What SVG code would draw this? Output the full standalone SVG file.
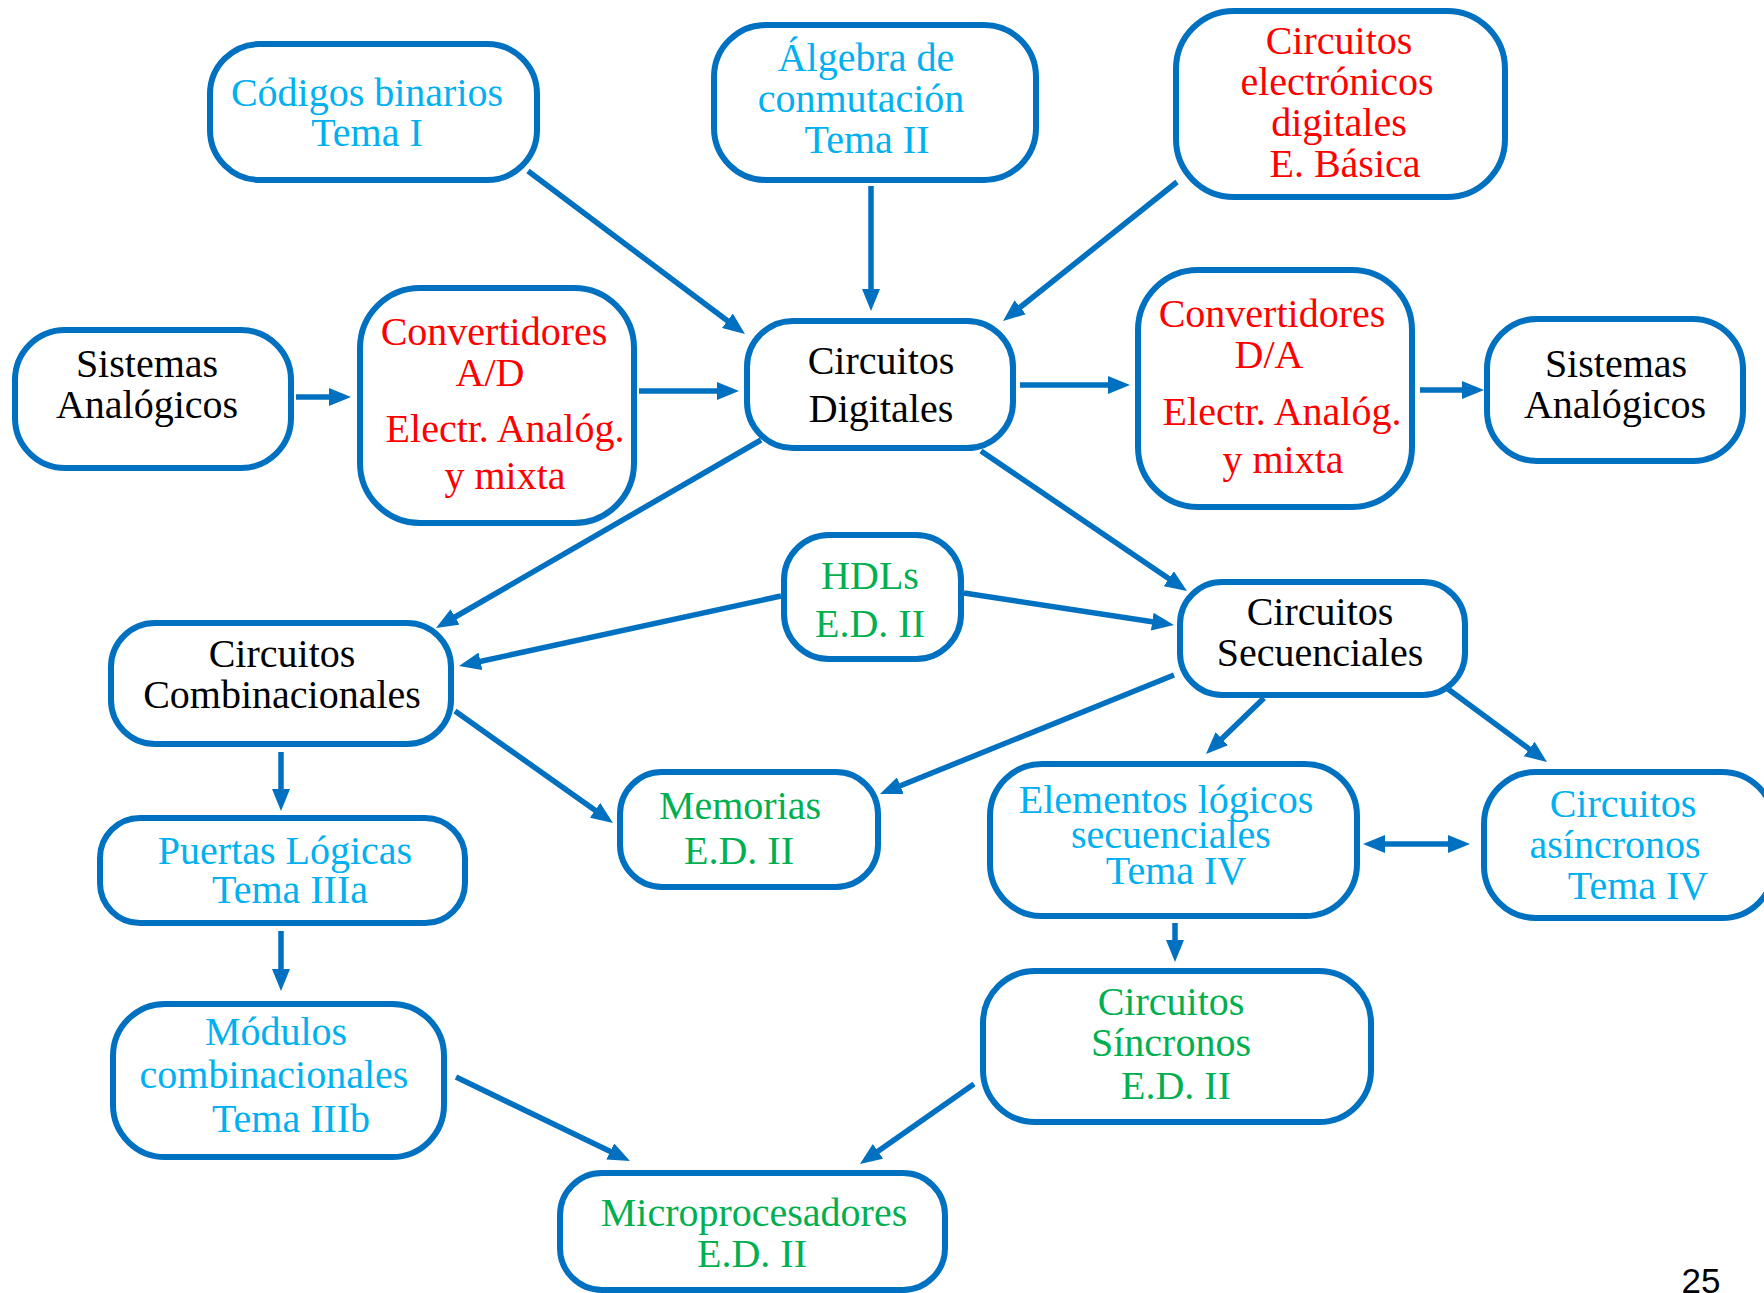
<svg xmlns="http://www.w3.org/2000/svg" width="1764" height="1293" viewBox="0 0 1764 1293">
<style>
.box{fill:#FFFFFF;stroke:#0070C0;stroke-width:6}
.t{font-family:"Liberation Serif","Times New Roman",serif;font-size:40px;text-anchor:middle}
.k{fill:#000000}
.c{fill:#00B0F0}
.r{fill:#FF0000}
.g{fill:#00B050}
.arrow{stroke:#0070C0;stroke-width:5.5;fill:none;marker-end:url(#ah)}
</style>
<defs>
<marker id="ah" markerUnits="userSpaceOnUse" markerWidth="22" markerHeight="18" refX="10" refY="9" orient="auto-start-reverse">
<path d="M0,0 L22,9 L0,18 z" fill="#0070C0"/>
</marker>
</defs>
<rect width="1764" height="1293" fill="#FFFFFF"/>
<g id="connectors">
<line class="arrow" x1="528" y1="171" x2="735.4" y2="326.8"/>
<line class="arrow" x1="871" y1="186" x2="871" y2="299"/>
<line class="arrow" x1="1177" y1="182" x2="1012.4" y2="313.5"/>
<line class="arrow" x1="296" y1="397" x2="339" y2="397"/>
<line class="arrow" x1="639" y1="391" x2="727" y2="391"/>
<line class="arrow" x1="1020" y1="385" x2="1118" y2="385"/>
<line class="arrow" x1="1420" y1="390" x2="1472" y2="390"/>
<line class="arrow" x1="761" y1="440" x2="446.4" y2="622"/>
<line class="arrow" x1="981" y1="451" x2="1177.1" y2="584.3"/>
<line class="arrow" x1="781" y1="596" x2="470.7" y2="663.5"/>
<line class="arrow" x1="964" y1="593" x2="1162.1" y2="623.2"/>
<line class="arrow" x1="455" y1="711" x2="603.2" y2="816.1"/>
<line class="arrow" x1="1174" y1="675" x2="891.1" y2="789.5"/>
<line class="arrow" x1="1264" y1="698" x2="1214.6" y2="745.7"/>
<line class="arrow" x1="1448" y1="689" x2="1537.3" y2="754.9"/>
<line class="arrow" x1="1375" y1="844" x2="1458" y2="844" marker-start="url(#ah)"/>
<line class="arrow" x1="1175" y1="923" x2="1175" y2="950"/>
<line class="arrow" x1="974" y1="1084" x2="869.8" y2="1157.1"/>
<line class="arrow" x1="281" y1="752" x2="281" y2="799"/>
<line class="arrow" x1="281" y1="931" x2="281" y2="979"/>
<line class="arrow" x1="456" y1="1077" x2="619.2" y2="1155.8"/>
</g>
<g id="codigos">
<rect class="box" x="210" y="44" width="327" height="136" rx="50"/>
<text class="t c"><tspan x="367" y="106">Códigos binarios</tspan><tspan x="367" y="146">Tema I</tspan></text>
</g>
<g id="algebra">
<rect class="box" x="714" y="25" width="322" height="155" rx="52"/>
<text class="t c"><tspan x="866" y="71">Álgebra de</tspan><tspan x="861" y="112">conmutación</tspan><tspan x="867" y="153">Tema II</tspan></text>
</g>
<g id="electronicos">
<rect class="box" x="1176" y="11" width="329" height="186" rx="58"/>
<text class="t r"><tspan x="1339" y="54">Circuitos</tspan><tspan x="1337" y="95">electrónicos</tspan><tspan x="1339" y="136">digitales</tspan><tspan x="1345" y="177">E. Básica</tspan></text>
</g>
<g id="sist-analog-izq">
<rect class="box" x="15" y="330" width="276" height="138" rx="50"/>
<text class="t k"><tspan x="147" y="377">Sistemas</tspan><tspan x="147" y="418">Analógicos</tspan></text>
</g>
<g id="conv-ad">
<rect class="box" x="360" y="288" width="274" height="235" rx="60"/>
<text class="t r"><tspan x="494" y="345">Convertidores</tspan><tspan x="490" y="386">A/D</tspan><tspan x="505" y="442">Electr. Analóg.</tspan><tspan x="505" y="489">y mixta</tspan></text>
</g>
<g id="circ-digitales">
<rect class="box" x="747" y="321" width="266" height="127" rx="46"/>
<text class="t k"><tspan x="881" y="374">Circuitos</tspan><tspan x="881" y="422">Digitales</tspan></text>
</g>
<g id="conv-da">
<rect class="box" x="1138" y="270" width="274" height="237" rx="60"/>
<text class="t r"><tspan x="1272" y="327">Convertidores</tspan><tspan x="1269" y="368">D/A</tspan><tspan x="1282" y="425">Electr. Analóg.</tspan><tspan x="1283" y="473">y mixta</tspan></text>
</g>
<g id="sist-analog-der">
<rect class="box" x="1487" y="319" width="256" height="142" rx="50"/>
<text class="t k"><tspan x="1616" y="377">Sistemas</tspan><tspan x="1615" y="418">Analógicos</tspan></text>
</g>
<g id="combinacionales">
<rect class="box" x="111" y="623" width="340" height="121" rx="44"/>
<text class="t k"><tspan x="282" y="667">Circuitos</tspan><tspan x="282" y="708">Combinacionales</tspan></text>
</g>
<g id="hdls">
<rect class="box" x="784" y="535" width="177" height="124" rx="45"/>
<text class="t g"><tspan x="870" y="589">HDLs</tspan><tspan x="870" y="637">E.D. II</tspan></text>
</g>
<g id="secuenciales">
<rect class="box" x="1180" y="582" width="285" height="113" rx="42"/>
<text class="t k"><tspan x="1320" y="625">Circuitos</tspan><tspan x="1320" y="666">Secuenciales</tspan></text>
</g>
<g id="memorias">
<rect class="box" x="620" y="772" width="258" height="115" rx="42"/>
<text class="t g"><tspan x="740" y="819">Memorias</tspan><tspan x="739" y="864">E.D. II</tspan></text>
</g>
<g id="puertas">
<rect class="box" x="100" y="818" width="365" height="105" rx="40"/>
<text class="t c"><tspan x="285" y="864">Puertas Lógicas</tspan><tspan x="290" y="903">Tema IIIa</tspan></text>
</g>
<g id="modulos">
<rect class="box" x="113" y="1004" width="331" height="153" rx="52"/>
<text class="t c"><tspan x="276" y="1045">Módulos</tspan><tspan x="274" y="1088">combinacionales</tspan><tspan x="291" y="1132">Tema IIIb</tspan></text>
</g>
<g id="microprocesadores">
<rect class="box" x="560" y="1173" width="385" height="117" rx="42"/>
<text class="t g"><tspan x="754" y="1226">Microprocesadores</tspan><tspan x="752" y="1267">E.D. II</tspan></text>
</g>
<g id="elementos">
<rect class="box" x="990" y="764" width="367" height="152" rx="52"/>
<text class="t c"><tspan x="1166" y="813">Elementos lógicos</tspan><tspan x="1171" y="848">secuenciales</tspan><tspan x="1176" y="884">Tema IV</tspan></text>
</g>
<g id="asincronos">
<rect class="box" x="1484" y="772" width="290" height="146" rx="52"/>
<text class="t c"><tspan x="1623" y="817">Circuitos</tspan><tspan x="1615" y="858">asíncronos</tspan><tspan x="1638" y="899">Tema IV</tspan></text>
</g>
<g id="sincronos">
<rect class="box" x="983" y="971" width="388" height="151" rx="52"/>
<text class="t g"><tspan x="1171" y="1015">Circuitos</tspan><tspan x="1171" y="1056">Síncronos</tspan><tspan x="1176" y="1099">E.D. II</tspan></text>
</g>
<text x="1701" y="1293" font-family="'Liberation Sans',Arial,sans-serif" font-size="35" text-anchor="middle" fill="#000000">25</text>
</svg>
